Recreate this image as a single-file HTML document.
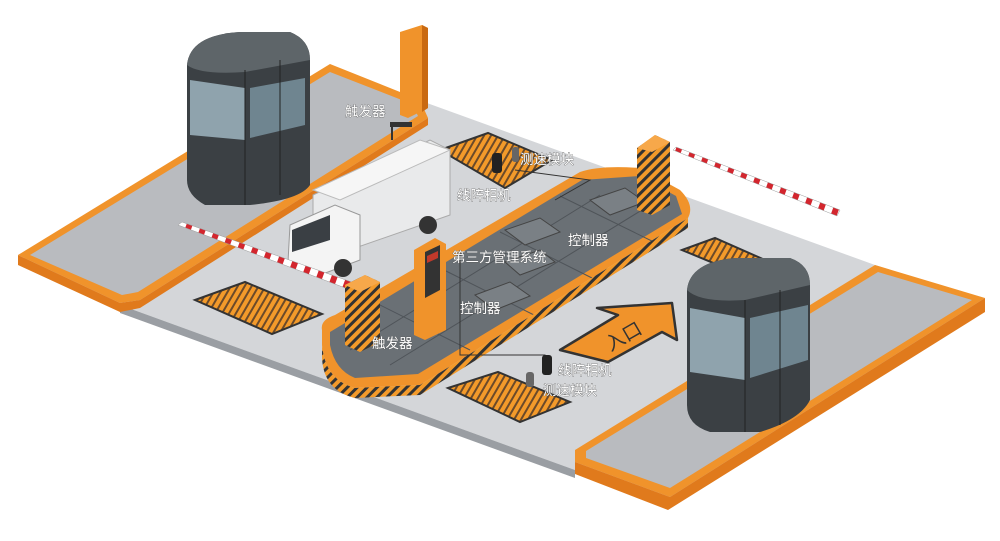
<!DOCTYPE html>
<html><head><meta charset="utf-8"><style>
body{margin:0;background:#fff;width:1000px;height:541px;overflow:hidden}
svg{display:block}
text{font-family:"Liberation Sans","Noto Sans CJK SC",sans-serif;font-size:13.5px;fill:#fff;stroke:#555;stroke-width:0.6;paint-order:stroke}
</style></head><body>
<svg width="1000" height="541" viewBox="0 0 1000 541">
<defs>
<pattern id="st" width="6" height="6" patternUnits="userSpaceOnUse" patternTransform="rotate(30)">
<rect width="6" height="6" fill="#f39a2a"/><rect width="2" height="6" fill="#6b4a2a"/></pattern>
<pattern id="st2" width="7" height="7" patternUnits="userSpaceOnUse" patternTransform="rotate(45)">
<rect width="7" height="7" fill="#f39a2a"/><rect width="3" height="7" fill="#333"/></pattern>
<pattern id="bar" width="14" height="6" patternUnits="userSpaceOnUse" patternTransform="rotate(20)">
<rect width="14" height="6" fill="#fff"/><rect width="6" height="6" fill="#d3262e"/></pattern>
</defs>
<!-- ground -->
<polygon points="18,262 330,68 875,265 985,300 670,505 575,470 120,305" fill="#d4d6d9"/>
<polygon points="120,305 575,470 575,478 120,313" fill="#9a9ea3"/>
<!-- left sidewalk -->
<path d="M18,255 L330,64 L420,100 L428,118 L140,300 L120,303 Z" fill="#f0932b"/>
<path d="M18,255 L18,265 L120,312 L140,308 L428,125 L428,118 L140,300 L120,303 Z" fill="#e07a1c"/>
<path d="M30,255 L330,72 L412,104 L418,116 L138,292 L122,295 Z" fill="#b9bbbf"/>
<!-- right sidewalk -->
<path d="M575,450 L875,265 L985,298 L670,497 L575,462 Z" fill="#f0932b"/>
<path d="M575,462 L670,497 L985,298 L985,312 L668,510 L575,474 Z" fill="#e07a1c"/>
<path d="M586,451 L878,272 L972,300 L670,488 L586,458 Z" fill="#b9bbbf"/>
<!-- loops -->
<polygon points="195,300 245,282 322,314 272,334" fill="url(#st)" stroke="#333" stroke-width="2"/>
<polygon points="448,388 498,372 570,402 520,422" fill="url(#st)" stroke="#333" stroke-width="2"/>
<polygon points="440,150 488,133 552,160 505,188" fill="url(#st)" stroke="#333" stroke-width="2"/>
<polygon points="682,250 715,238 765,260 735,272" fill="url(#st)" stroke="#333" stroke-width="2"/>
<!-- arrow -->
<polygon points="560,350 618,315 597,308 672,303 677,340 662,332 608,362" fill="#f0932b" stroke="#333" stroke-width="2.5" stroke-linejoin="round"/>
<text x="605" y="345" style="font-size:19px;fill:#333;stroke:none" transform="rotate(-30 620 338)">入口</text>
<!-- island -->
<path d="M322,330 Q320,320 335,315 L580,172 Q600,165 640,168 L680,190 Q695,205 688,218 L420,385 L355,388 Q325,380 322,345 Z" fill="#f0932b"/>
<path d="M330,332 L582,180 L640,176 L676,196 L682,214 L418,374 L355,378 Q335,370 330,345 Z" fill="#6a7075"/>
<g stroke="#4f5459" stroke-width="1">
<line x1="380" y1="305" x2="470" y2="350"/><line x1="440" y1="268" x2="540" y2="318"/><line x1="500" y1="232" x2="600" y2="282"/><line x1="560" y1="196" x2="660" y2="245"/>
<line x1="350" y1="350" x2="600" y2="195"/><line x1="390" y1="365" x2="650" y2="205"/>
</g>
<path d="M322,345 Q325,380 355,388 L420,385 L688,218 L688,228 L420,395 L355,398 Q322,390 322,355 Z" fill="url(#st2)"/>
<!-- boxes -->
<polygon points="505,230 540,218 560,232 525,245" fill="#7a8085" stroke="#444"/>
<polygon points="590,200 625,188 645,202 610,215" fill="#7a8085" stroke="#444"/>
<polygon points="475,295 510,282 530,296 495,310" fill="#7a8085" stroke="#444"/>
<polygon points="505,262 540,250 555,262 520,275" fill="#7a8085" stroke="#444"/>
<polyline points="460,250 460,355 545,355 545,372" fill="none" stroke="#333"/>
<polyline points="515,170 590,180 555,200" fill="none" stroke="#333"/>
<!-- booths -->
<g>
<path d="M187,65 Q190,35 240,32 L290,32 Q310,40 310,60 L310,185 Q300,200 250,205 L205,205 Q187,195 187,180 Z" fill="#3b4044"/>
<path d="M187,65 Q190,35 240,32 L290,32 Q310,40 310,60 L245,72 Q200,75 187,65Z" fill="#5e6569"/>
<path d="M190,80 L245,88 L245,140 L190,135 Z" fill="#8fa3ad"/>
<path d="M250,88 L305,78 L305,125 L250,138 Z" fill="#6f8590"/>
<line x1="245" y1="70" x2="245" y2="205" stroke="#222"/>
<line x1="280" y1="60" x2="280" y2="195" stroke="#222"/>
</g>
<g>
<path d="M687,290 Q690,262 735,258 L790,258 Q810,265 810,285 L810,400 Q800,420 760,432 L710,432 Q687,425 687,405 Z" fill="#3b4044"/>
<path d="M687,290 Q690,262 735,258 L790,258 Q810,265 810,285 L745,300 Q700,303 687,290Z" fill="#5e6569"/>
<path d="M690,308 L745,318 L745,380 L690,372 Z" fill="#8fa3ad"/>
<path d="M750,318 L808,305 L808,360 L750,378 Z" fill="#6f8590"/>
<line x1="745" y1="300" x2="745" y2="432" stroke="#222"/>
<line x1="780" y1="290" x2="780" y2="425" stroke="#222"/>
</g>
<!-- tall post -->
<polygon points="400,32 422,25 428,28 428,108 408,118 400,115" fill="#f0932b"/>
<polygon points="422,25 428,28 428,108 422,112" fill="#c96a12"/>
<line x1="392" y1="125" x2="392" y2="140" stroke="#333" stroke-width="2"/>
<rect x="390" y="122" width="22" height="5" fill="#333"/>
<!-- truck -->
<polygon points="313,195 430,140 450,150 450,215 335,255 313,245" fill="#e9eaeb" stroke="#aaa"/>
<polygon points="313,190 420,140 450,150 340,200" fill="#f6f6f6" stroke="#bbb"/>
<polygon points="290,225 335,205 360,215 360,260 320,275 288,262" fill="#f4f4f4" stroke="#999"/>
<polygon points="292,230 330,215 330,240 292,252" fill="#3a3f44"/>
<circle cx="343" cy="268" r="9" fill="#333"/><circle cx="428" cy="225" r="9" fill="#333"/>
<!-- barriers -->
<polygon points="178,225 182,222 360,285 356,292" fill="url(#bar)" stroke="#999" stroke-width="0.5"/>
<polygon points="673,150 676,147 840,210 837,216" fill="url(#bar)" stroke="#999" stroke-width="0.5"/>
<polygon points="345,285 365,275 380,282 380,342 360,352 345,345" fill="url(#st2)"/>
<polygon points="345,285 365,275 380,282 360,292" fill="#f7a84a"/>
<polygon points="637,148 655,135 670,142 670,205 652,215 637,210" fill="url(#st2)"/>
<polygon points="637,148 655,135 670,142 652,152" fill="#f7a84a"/>
<!-- ticket machine -->
<polygon points="414,250 435,238 446,244 446,330 425,340 414,335" fill="#f0932b"/>
<polygon points="425,252 440,245 440,290 425,298" fill="#333"/>
<polygon points="427,256 438,251 438,258 427,263" fill="#c0392b"/>
<!-- cameras -->
<rect x="492" y="153" width="10" height="20" rx="3" fill="#222"/>
<rect x="512" y="147" width="7" height="15" rx="3" fill="#666"/>
<rect x="542" y="355" width="10" height="20" rx="3" fill="#222"/>
<rect x="526" y="372" width="8" height="15" rx="3" fill="#666"/>
<!-- labels -->
<text x="345" y="116">触发器</text>
<text x="520" y="164">测速模块</text>
<text x="457" y="200">线阵相机</text>
<text x="568" y="245">控制器</text>
<text x="452" y="262">第三方管理系统</text>
<text x="460" y="313">控制器</text>
<text x="372" y="348">触发器</text>
<text x="558" y="375">线阵相机</text>
<text x="543" y="395">测速模块</text>
</svg>
</body></html>
